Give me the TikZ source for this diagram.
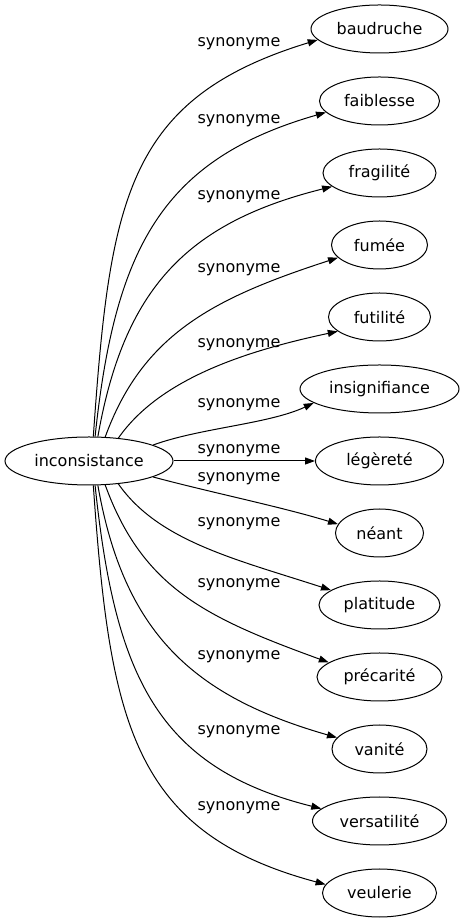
\documentclass[tikz,border=0pt]{standalone}
\usepackage{fontspec}
\setmainfont{DejaVu Sans}
\usetikzlibrary{shapes.geometric,arrows.meta}

\begin{document}
\begin{tikzpicture}[x=1pt, y=1pt,
    word/.style={draw, ellipse, line width=1pt, inner sep=0pt, minimum height=48pt,
                 font=\fontsize{16}{19}\selectfont},
    syn/.style={-{Triangle[length=10pt, width=7pt]}, line width=1pt},
    rel/.style={font=\fontsize{16}{19}\selectfont}]
    \useasboundingbox (0,0) rectangle (466,923);

    % Central word
    \node[word, minimum width=168pt] (inconsistance) at (89, 462) {inconsistance};

    % Synonyms, top to bottom
    \foreach \name/\txt/\y/\w in {baudruche/baudruche/894/137, faiblesse/faiblesse/822/120,
                                  fragilite/fragilité/750/113, fumee/fumée/678/96,
                                  futilite/futilité/606/102, insignifiance/insignifiance/534/159,
                                  legerete/légèreté/462/128, neant/néant/390/88,
                                  platitude/platitude/318/121, precarite/précarité/246/125,
                                  vanite/vanité/174/95, versatilite/versatilité/102/134,
                                  veulerie/veulerie/30/114} {
        \node[word, minimum width=\w pt] (\name) at (379.5, \y) {\txt};
    }

    % Edges (start anchor / out angle / length / end anchor / in angle / length)
    \foreach \name/\a/\o/\p/\b/\i/\q in {baudruche/80/86/238/190/197/200,
                                         faiblesse/76/84/190/192/196/170,
                                         fragilite/70/80/150/196/194/150,
                                         fumee/56/70/110/197/198/130,
                                         futilite/38/55/70/199/192/100,
                                         insignifiance/14/20/50/192/205/50,
                                         neant/346/345/60/168/163/60,
                                         platitude/322/305/70/163/162/100,
                                         precarite/304/290/110/164/160/130,
                                         vanite/290/280/150/165/164/150,
                                         versatilite/284/276/190/168/166/170,
                                         veulerie/280/274/238/171/165/200} {
        \draw[syn] (inconsistance.\a) .. controls +(\o:\p) and +(\i:\q) .. (\name.\b);
    }
    \draw[syn] (inconsistance) -- (legerete);

    % Edge labels
    \foreach \y [count=\k] in {879, 802, 726, 653, 578, 518, 472, 444, 399, 338, 266, 191, 115} {
        \node[rel] (label\k) at (239, \y) {synonyme};
    }
\end{tikzpicture}
\end{document}
